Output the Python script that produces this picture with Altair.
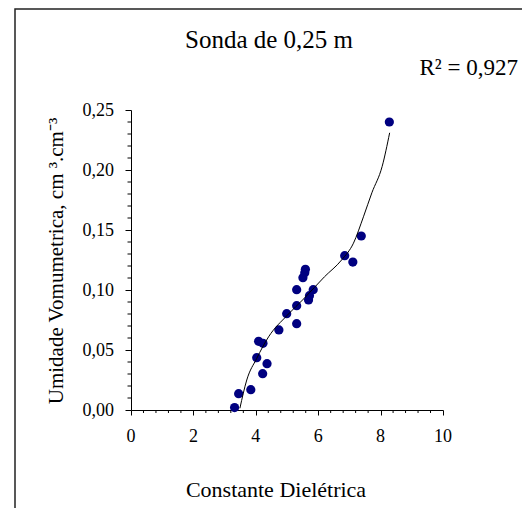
import altair as alt
import pandas as pd

# Measured points (Constante Dielétrica, Umidade volumétrica)
pt_x = [3.32, 3.45, 3.84, 4.03, 4.09, 4.23, 4.22, 4.36, 4.74, 4.99, 5.31, 5.31, 5.31,
        5.51, 5.57, 5.59, 5.69, 5.72, 5.84, 6.85, 7.11, 7.38, 8.28]
pt_y = [0.002, 0.0136, 0.0169, 0.0436, 0.0572, 0.0556, 0.0303, 0.0386, 0.0667, 0.0803,
        0.0719, 0.0869, 0.1003, 0.1103, 0.1144, 0.1172, 0.0917, 0.0953, 0.1003,
        0.1286, 0.1233, 0.145, 0.240]

# Fitted curve
fit_x = [3.49, 3.71, 4.03, 4.41, 5.01, 5.55, 6.20, 6.75, 7.13, 7.45, 7.72, 8.05, 8.29]
fit_y = [0.0014, 0.025, 0.043, 0.061, 0.079, 0.093, 0.111, 0.125, 0.139, 0.161, 0.181, 0.203, 0.231]

x_major = [0, 2, 4, 6, 8, 10]
x_labels = ["0", "2", "4", "6", "8", "10"]
y_major = [0.0, 0.05, 0.10, 0.15, 0.20, 0.25]
y_labels = ["0,00", "0,05", "0,10", "0,15", "0,20", "0,25"]
x_minor = [0.4, 0.8, 1.2, 1.6, 2.4, 2.8, 3.2, 3.6, 4.4, 4.8, 5.2, 5.6,
           6.4, 6.8, 7.2, 7.6, 8.4, 8.8, 9.2, 9.6]
y_minor = [0.01, 0.02, 0.03, 0.04, 0.06, 0.07, 0.08, 0.09, 0.11, 0.12, 0.13, 0.14,
           0.16, 0.17, 0.18, 0.19, 0.21, 0.22, 0.23, 0.24]

title_text = "Sonda de 0,25 m"
r2_text = "R² = 0,927"
x_title = "Constante Dielétrica"
y_title = "Umidade Vomumetrica, cm ³.cm⁻³"

FONT = "Liberation Serif"

pts = pd.DataFrame({"x": pt_x, "y": pt_y})
fit = pd.DataFrame({"x": fit_x, "y": fit_y})
xmin = pd.DataFrame({"x": x_minor})
ymin = pd.DataFrame({"y": y_minor})
xlab = pd.DataFrame({"x": x_major, "t": x_labels})
ylab = pd.DataFrame({"y": y_major, "t": y_labels})
one = pd.DataFrame({"a": [0]})

xscale = alt.Scale(domain=[0, 10], nice=False, zero=True)
yscale = alt.Scale(domain=[0, 0.25], nice=False, zero=True)

xaxis = alt.Axis(values=x_major, title=None, grid=False, tickSize=5, labels=False,
                 domainColor="black", tickColor="black")
yaxis = alt.Axis(values=y_major, title=None, grid=False, tickSize=6, labels=False,
                 domainColor="black", tickColor="black")

points = alt.Chart(pts).mark_circle(size=85, color="#000080", opacity=1).encode(
    x=alt.X("x:Q", scale=xscale, axis=xaxis),
    y=alt.Y("y:Q", scale=yscale, axis=yaxis),
)

line = alt.Chart(fit).mark_line(color="black", strokeWidth=1, interpolate="monotone").encode(
    x=alt.X("x:Q", scale=xscale, axis=xaxis),
    y=alt.Y("y:Q", scale=yscale, axis=yaxis),
)

xminor = alt.Chart(xmin).mark_rule(color="black", strokeWidth=1).encode(
    x=alt.X("x:Q", scale=xscale, axis=xaxis),
    y=alt.value(300), y2=alt.value(303),
)
yminor = alt.Chart(ymin).mark_rule(color="black", strokeWidth=1).encode(
    y=alt.Y("y:Q", scale=yscale, axis=yaxis),
    x=alt.value(0), x2=alt.value(-3.5),
)

xlabels = alt.Chart(xlab).mark_text(font=FONT, fontSize=18, color="black",
                                    align="center", baseline="alphabetic").encode(
    x=alt.X("x:Q", scale=xscale, axis=xaxis),
    y=alt.value(332), text="t:N")
ylabels = alt.Chart(ylab).mark_text(font=FONT, fontSize=18, color="black",
                                    align="right", baseline="middle", dy=1).encode(
    y=alt.Y("y:Q", scale=yscale, axis=yaxis),
    x=alt.value(-17), text="t:N")

frame = alt.Chart(one).mark_rect(fill=None, stroke="#222222", strokeWidth=1.5).encode(
    x=alt.value(-116), x2=alt.value(394), y=alt.value(-101), y2=alt.value(420),
)

title = alt.Chart(one).mark_text(font=FONT, fontSize=25, color="black",
                                 align="center", baseline="alphabetic").encode(
    x=alt.value(138), y=alt.value(-62), text=alt.value(title_text))
r2 = alt.Chart(one).mark_text(font=FONT, fontSize=23, color="black",
                              align="right", baseline="alphabetic").encode(
    x=alt.value(387), y=alt.value(-35), text=alt.value(r2_text))
xt = alt.Chart(one).mark_text(font=FONT, fontSize=22, color="black",
                              align="center", baseline="alphabetic").encode(
    x=alt.value(145), y=alt.value(387), text=alt.value(x_title))
yt = alt.Chart(one).mark_text(font=FONT, fontSize=21, color="black", angle=270,
                              align="center", baseline="alphabetic").encode(
    x=alt.value(-68), y=alt.value(151), text=alt.value(y_title))

chart = alt.layer(frame, xminor, yminor, points, line, xlabels, ylabels,
                  title, r2, xt, yt).properties(
    width=312, height=300,
    autosize=alt.AutoSizeParams(type="none"),
    padding={"left": 123, "top": 102, "right": 79, "bottom": 98},
    background="white",
).configure_view(stroke=None).configure_axis(
    domainColor="black", tickColor="black", domainWidth=1, tickWidth=1,
)

chart.save("out.html", embed_options={"renderer": "svg", "actions": False})
